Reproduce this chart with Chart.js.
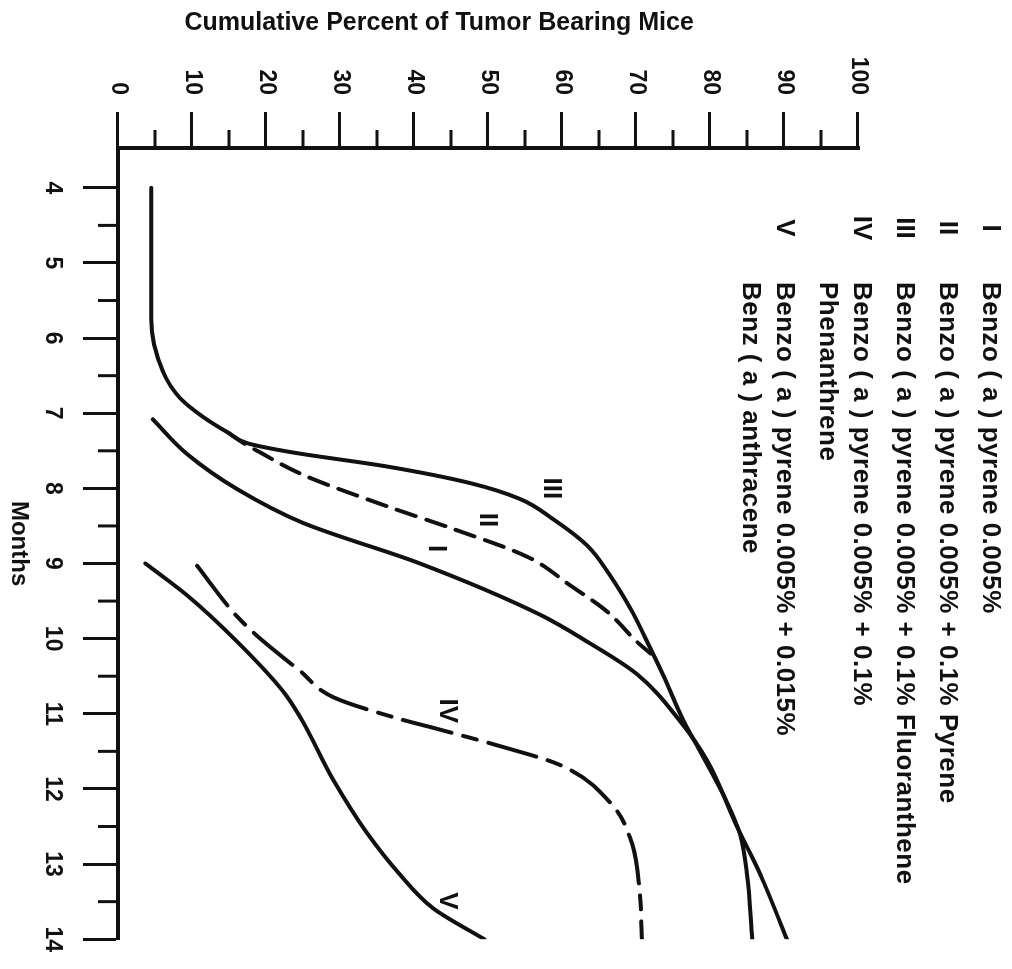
<!DOCTYPE html>
<html>
<head>
<meta charset="utf-8">
<title>Cumulative Percent of Tumor Bearing Mice</title>
<script src="https://cdn.jsdelivr.net/npm/chart.js@4.4.1/dist/chart.umd.min.js"></script>
<style>
  html, body { margin:0; padding:0; background:#fff; overflow:hidden; }
  body { width:1012px; height:969px; position:relative; }
  /* the printed figure is turned a quarter turn clockwise */
  #wrap { position:absolute; left:0; top:0; width:969px; height:1012px;
          transform-origin:0 0; transform:translate(1012px,0) rotate(90deg); }
</style>
</head>
<body>
<div id="wrap"><canvas id="tumor-chart" width="969" height="1012"></canvas></div>
<script>
// ─────────────────────────────────────────
// Tumor incidence by month — curves I..V
// ─────────────────────────────────────────

const MONTH_TICKS = [4,5,6,7,8,9,10,11,12,13,14];
const MONTH_MINOR = [4.5,5.5,6.5,7.5,8.5,9.5,10.5,11.5,12.5,13.5];
const PCT_MINOR   = [5,15,25,35,45,55,65,75,85,95];

// I  Benzo(a)pyrene alone
const I_MONTHS = [7.08, 7.54, 8.01, 8.46, 9.0, 9.68, 10.04, 10.47, 11.09, 11.62, 12.49, 13.14, 14.0];
const I_PCT    = [4.7,  9.3,  16.1, 25.0, 40.8, 57.0, 63.4, 70.1, 75.9, 79.6, 83.6, 86.8, 90.4];

// II  + pyrene (dashed, leaves III at ~7.3 and rejoins at ~10.2)
const II_MONTHS = [7.26, 7.4,  7.5,  7.82, 8.24, 8.54, 8.91, 9.29, 9.64, 10.04, 10.2];
const II_PCT    = [14.9, 17.0, 18.8, 25.0, 36.4, 45.3, 55.3, 61.1, 66.1, 70.1,  72.0];

// III  + fluoranthene
const III_MONTHS = [4.0, 4.9, 5.75, 6.45, 6.8, 7.05, 7.26, 7.4,  7.52, 7.71, 7.93, 8.14, 8.41, 8.76, 9.16, 9.59, 10.04, 10.47, 11.09, 11.49, 12.18, 12.62, 13.14, 14.0];
const III_PCT    = [4.5, 4.5, 4.5,  6.1,  8.4, 11.5, 14.9, 17.5, 23.5, 36.4, 47.6, 54.3, 58.8, 63.4, 66.5, 69.2, 71.5,  73.6,  76.4,  78.6,  82.3,  84.1,  85.0,  85.7];

// IV  + phenanthrene (dashed)
const IV_MONTHS = [9.03, 9.64, 9.91, 10.43, 10.78, 11.07, 11.2, 11.43, 11.68, 12.18, 12.74, 13.37, 14.0];
const IV_PCT    = [10.7, 15.5, 18.2, 24.6,  29.1,  38.1,  43.1, 51.6,  59.7,  66.5,  69.5,  70.5,  70.8];

// V  + benz(a)anthracene
const V_MONTHS = [9.0, 9.42, 10.04, 10.7, 11.04, 11.88, 12.58, 13.14, 13.59, 14.0];
const V_PCT    = [3.7, 9.3,  16.1,  22.3, 24.6,  29.1,  33.6,  38.1,  42.6,  49.5];

// curve tags written next to the lines
const TAG_TEXT   = ['I', 'II', 'III', 'IV', 'V'];
const TAG_MONTHS = [8.8, 8.42, 8.0, 10.96, 13.49];
const TAG_PCT    = [43.0, 49.9, 58.6, 44.5, 44.5];

const KEY_TEXT  = ['I', 'II', 'III', 'IV', 'V'];
const KEY_LINES = [
  ['Benzo ( a ) pyrene 0.005%'],
  ['Benzo ( a ) pyrene 0.005% + 0.1% Pyrene'],
  ['Benzo ( a ) pyrene 0.005% + 0.1% Fluoranthene'],
  ['Benzo ( a ) pyrene 0.005% + 0.1%', 'Phenanthrene'],
  ['Benzo ( a ) pyrene 0.005% + 0.015%', 'Benz ( a ) anthracene']
];

const Y_TITLE = 'Cumulative Percent of Tumor Bearing Mice';
const X_TITLE = 'Months';

const INK = '#111';
const FONT = "'Liberation Sans', Arial, Helvetica, sans-serif";

function pts(xs, ys){ return xs.map((x,i) => ({x, y:ys[i]})); }

function curve(label, xs, ys, dash){
  return {
    label, data: pts(xs, ys), showLine:true,
    borderColor:INK, borderWidth:4, borderDash:dash||[],
    borderCapStyle:'round', borderJoinStyle:'round',
    cubicInterpolationMode:'monotone', pointRadius:0, pointHoverRadius:0, fill:false
  };
}

// short ticks at the half steps
const minorTicks = {
  id:'minor-ticks',
  afterDraw(chart){
    const {ctx, chartArea:a, scales:{x, y}} = chart;
    ctx.save();
    ctx.strokeStyle = INK;
    ctx.lineWidth = 3;
    PCT_MINOR.forEach(v => {
      const py = y.getPixelForValue(v);
      ctx.beginPath(); ctx.moveTo(a.left, py); ctx.lineTo(a.left - 18, py); ctx.stroke();
    });
    MONTH_MINOR.forEach(v => {
      const px = x.getPixelForValue(v);
      ctx.beginPath(); ctx.moveTo(px, a.bottom); ctx.lineTo(px, a.bottom + 20); ctx.stroke();
    });
    ctx.restore();
  }
};

// title, key and curve tags
const figureText = {
  id:'figure-text',
  afterDraw(chart){
    const {ctx, chartArea:a, scales:{x, y}} = chart;
    ctx.save();
    ctx.fillStyle = INK;
    ctx.textBaseline = 'middle';

    ctx.save();
    ctx.font = `bold 25px ${FONT}`;
    ctx.textAlign = 'center';
    ctx.translate(23, a.bottom - (a.bottom - a.top) * 0.434);
    ctx.rotate(-Math.PI/2);
    ctx.fillText(Y_TITLE, 0, 0);
    ctx.restore();

    ctx.font = `bold 26px ${FONT}`;
    let row = 22;
    KEY_TEXT.forEach((k, i) => {
      ctx.letterSpacing = '0px';
      ctx.textAlign = 'center';
      ctx.fillText(k, 228, row);
      ctx.textAlign = 'left';
      ctx.letterSpacing = '0.5px';
      KEY_LINES[i].forEach((t, j) => ctx.fillText(t, 282, row + j*34));
      row += (KEY_LINES[i].length - 1) * 34 + 43;
    });
    ctx.letterSpacing = '0px';

    ctx.textAlign = 'center';
    TAG_TEXT.forEach((t, i) => {
      ctx.fillText(t, x.getPixelForValue(TAG_MONTHS[i]), y.getPixelForValue(TAG_PCT[i]));
    });
    ctx.restore();
  }
};

Chart.defaults.font.family = FONT;
Chart.defaults.color = INK;

new Chart(document.getElementById('tumor-chart'), {
  type:'scatter',
  data:{
    datasets:[
      curve('III', III_MONTHS, III_PCT),
      curve('II',  II_MONTHS,  II_PCT,  [20, 11]),
      curve('I',   I_MONTHS,   I_PCT),
      curve('IV',  IV_MONTHS,  IV_PCT,  [50, 12, 14, 12]),
      curve('V',   V_MONTHS,   V_PCT)
    ]
  },
  options:{
    responsive:false, animation:false, devicePixelRatio:1,
    layout:{ padding:{ top:154, right:21, bottom:0, left:0 } },
    plugins:{ legend:{display:false}, tooltip:{enabled:false} },
    scales:{
      x:{
        type:'linear', position:'bottom', min:3.47, max:14,
        afterBuildTicks: s => { s.ticks = MONTH_TICKS.map(value => ({value})); },
        afterFit: s => { s.height = 118; },
        grid:{ drawOnChartArea:false, tickLength:35, tickWidth:3, tickColor:INK },
        border:{ display:true, width:4, color:INK },
        ticks:{ autoSkip:false, maxRotation:0, padding:17, color:INK,
                font:{size:23, weight:'bold'}, callback: v => String(v) },
        title:{ display:true, text:X_TITLE, color:INK, font:{size:24, weight:'bold'},
                padding:{top:0, bottom:4} }
      },
      y:{
        type:'linear', position:'left', min:0, max:100,
        afterFit: s => { s.width = 148; },
        grid:{ drawOnChartArea:false, tickLength:36, tickWidth:3, tickColor:INK },
        border:{ display:true, width:4, color:INK },
        ticks:{ stepSize:10, padding:17, color:INK, font:{size:23, weight:'bold'} },
        title:{ display:false }
      }
    }
  },
  plugins:[minorTicks, figureText]
});
</script>
</body>
</html>
